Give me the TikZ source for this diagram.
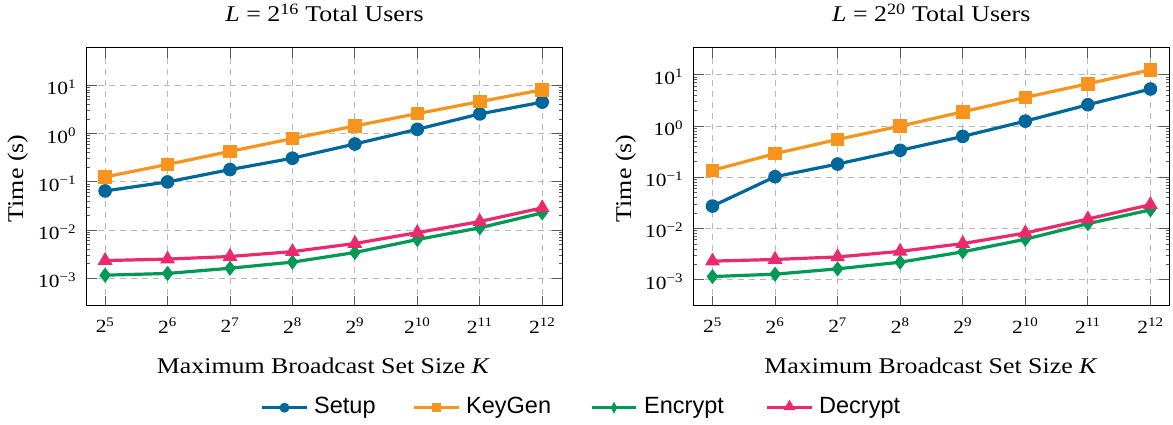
\documentclass[tikz,border=0pt]{standalone}
\usepackage{fontspec}
\setmainfont{Liberation Serif}[FakeStretch=1.15]
\newfontfamily\legendfont{Liberation Sans}
\usepackage{pgfplots}
\pgfplotsset{compat=1.18}
\usetikzlibrary{shapes.geometric}

\definecolor{setupblue}{HTML}{00679A}
\definecolor{keygenorange}{HTML}{F7941E}
\definecolor{encryptgreen}{HTML}{009A55}
\definecolor{decryptpink}{HTML}{EB2A6E}

\newcommand\pwr[2]{#1\textsuperscript{#2}}

\pgfplotsset{
  panelaxis/.style={
    scale only axis,
    width=475.5pt, height=258.3pt,
    xtick={5,...,12},
    xticklabels={\pwr{2}{5},\pwr{2}{6},\pwr{2}{7},\pwr{2}{8},\pwr{2}{9},\pwr{2}{10},\pwr{2}{11},\pwr{2}{12}},
    ytick={1e-3,1e-2,1e-1,1,10},
    yticklabels={\pwr{10}{−3},\pwr{10}{−2},\pwr{10}{−1},\pwr{10}{0},\pwr{10}{1}},
    minor tick num=0,
    grid=major,
    major grid style={draw=black!28, line width=1pt, dash pattern=on 6pt off 5pt},
    axis line style={line width=1pt, black},
    major tick length=10pt,
    tick style={black!65, line width=1pt},
    ticklabel style={font=\fontsize{18.6}{20}\selectfont},
    xticklabel style={anchor=north, inner sep=0pt, yshift=-12pt},
    yticklabel style={anchor=east, inner sep=0pt, xshift=-10.5pt, yshift=-2pt},
    every axis plot/.append style={line width=3.2pt, mark options={solid, line width=1pt}},
  },
  setupplot/.style={color=setupblue, mark=*, mark size=6.3pt},
  keygenplot/.style={color=keygenorange, mark=square*, mark size=6.3pt},
  encryptplot/.style={color=encryptgreen, mark=diamond*, mark size=6.8pt},
  decryptplot/.style={color=decryptpink, mark=triangle*, mark size=7.6pt},
}

\tikzset{
  paneltitle/.style={anchor=base, inner sep=0pt, font=\fontsize{22.5}{26}\selectfont},
  axislabel/.style={anchor=base, inner sep=0pt, font=\fontsize{22.5}{26}\selectfont},
  legline/.style={line width=2.6pt},
  legtext/.style={anchor=base west, inner sep=0pt, font=\legendfont\fontsize{23.5}{26}\selectfont},
  legcircle/.style={circle, fill, inner sep=0pt, minimum size=10pt},
  legsquare/.style={rectangle, fill, inner sep=0pt, minimum size=9.3pt},
  legdiamond/.style={diamond, fill, inner sep=0pt, minimum width=7.5pt, minimum height=13pt},
  legtriangle/.style={regular polygon, regular polygon sides=3, fill, inner sep=0pt, minimum size=14pt},
}

\begin{document}
\begin{tikzpicture}
\useasboundingbox (0pt,0pt) rectangle (1173pt,425pt);

% left panel: L = 2^16
\begin{semilogyaxis}[panelaxis, name=leftax, anchor=south west, at={(86.7pt,119pt)},
  xmin=4.705, xmax=12.32, ymin=2.69e-4, ymax=60.3]
\addplot[setupplot] coordinates {(5,0.065) (6,0.10) (7,0.18) (8,0.31) (9,0.61) (10,1.23) (11,2.56) (12,4.5)};
\addplot[keygenplot] coordinates {(5,0.127) (6,0.23) (7,0.43) (8,0.79) (9,1.44) (10,2.6) (11,4.6) (12,8.1)};
\addplot[encryptplot] coordinates {(5,0.00117) (6,0.00127) (7,0.00163) (8,0.00218) (9,0.00345) (10,0.0064) (11,0.0112) (12,0.0228)};
\addplot[decryptplot] coordinates {(5,0.00235) (6,0.00252) (7,0.00285) (8,0.0036) (9,0.0053) (10,0.0089) (11,0.0151) (12,0.029)};
\end{semilogyaxis}

% right panel: L = 2^20
\begin{semilogyaxis}[panelaxis, name=rightax, anchor=south west, at={(693.7pt,119pt)},
  xmin=4.70, xmax=12.30, ymin=3.09e-4, ymax=33.9]
\addplot[setupplot] coordinates {(5,0.0275) (6,0.103) (7,0.182) (8,0.337) (9,0.63) (10,1.25) (11,2.61) (12,5.3)};
\addplot[keygenplot] coordinates {(5,0.137) (6,0.29) (7,0.55) (8,1.0) (9,1.9) (10,3.63) (11,6.7) (12,12.5)};
\addplot[encryptplot] coordinates {(5,0.00116) (6,0.00129) (7,0.00164) (8,0.00221) (9,0.00352) (10,0.0062) (11,0.0125) (12,0.0232)};
\addplot[decryptplot] coordinates {(5,0.00232) (6,0.0025) (7,0.0028) (8,0.0036) (9,0.0051) (10,0.0082) (11,0.0154) (12,0.0293)};
\end{semilogyaxis}

% titles and axis labels
\node[paneltitle] (ltitle) at (324.5pt,403pt) {\textit{L} = \pwr{2}{16} Total Users};
\node[paneltitle] (rtitle) at (931.3pt,403pt) {\textit{L} = \pwr{2}{20} Total Users};
\node[axislabel] (lxlabel) at (323.5pt,51pt) {Maximum Broadcast Set Size \textit{K}};
\node[axislabel] (rxlabel) at (931pt,51pt) {Maximum Broadcast Set Size \textit{K}};
\node[axislabel, rotate=90] (lylabel) at (23.2pt,246.6pt) {Time (s)};
\node[axislabel, rotate=90] (rylabel) at (631pt,246.6pt) {Time (s)};

% shared legend
\coordinate (sa) at (262pt,17.3pt);  \coordinate (sb) at (307pt,17.3pt);
\coordinate (ka) at (414pt,17.3pt);  \coordinate (kb) at (459pt,17.3pt);
\coordinate (ea) at (592pt,17.3pt);  \coordinate (eb) at (636pt,17.3pt);
\coordinate (da) at (767pt,17.3pt);  \coordinate (db) at (812pt,17.3pt);

\draw[legline, setupblue] (sa) -- (sb) node[midway, legcircle] (smark) {};
\node[legtext] (stext) at (314pt,11.7pt) {Setup};
\draw[legline, keygenorange] (ka) -- (kb) node[midway, legsquare] (kmark) {};
\node[legtext] (ktext) at (466pt,11.7pt) {KeyGen};
\draw[legline, encryptgreen] (ea) -- (eb) node[midway, legdiamond] (emark) {};
\node[legtext] (etext) at (644pt,11.7pt) {Encrypt};
\draw[legline, decryptpink] (da) -- (db) node[midway, legtriangle, yshift=1pt] (dmark) {};
\node[legtext] (dtext) at (819pt,11.7pt) {Decrypt};
\end{tikzpicture}
\end{document}
